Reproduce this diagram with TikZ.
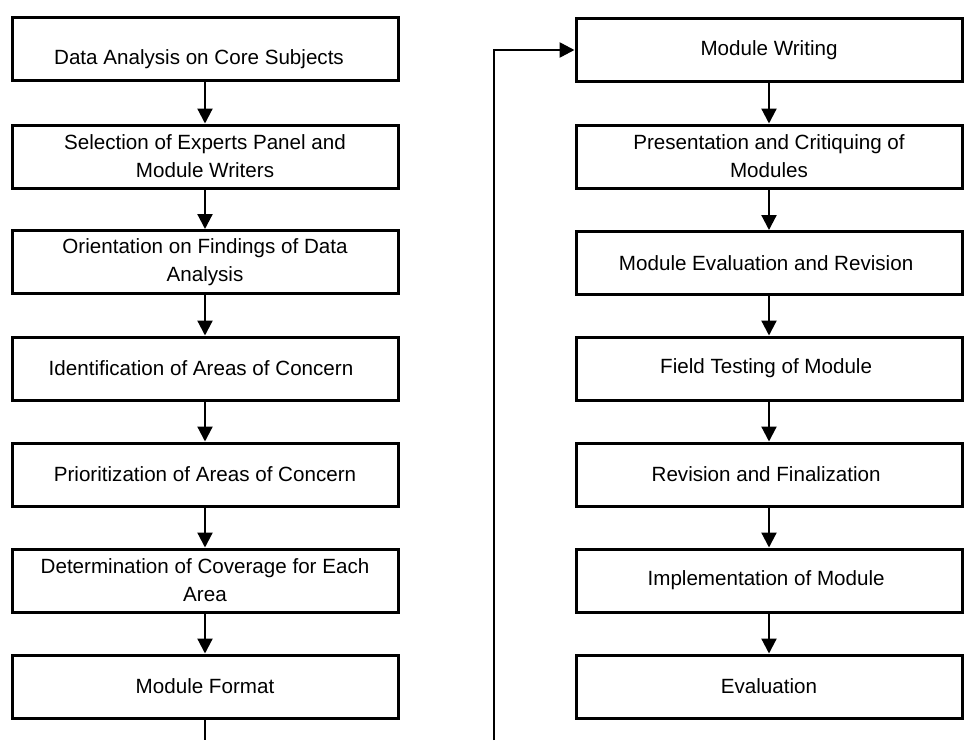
\documentclass[tikz,border=0pt]{standalone}
\usepackage{fontspec}
\setmainfont{Liberation Sans}
\usepackage{tikz}
\usetikzlibrary{arrows.meta}
\newcommand{\boxw}{193pt}
\newcommand{\boxh}{31.5pt}
\newcommand{\rimw}{1.5pt}

\begin{document}
\begin{tikzpicture}[x=0.5pt,y=-0.5pt]
            \tikzset{stepbox/.style = {draw, rectangle, line width=\rimw, minimum width=\boxw, minimum height=\boxh, inner sep=0pt, align=center, font=\fontsize{10.3}{14}\selectfont}}
            \tikzset{flow/.style = {line width=1.1pt, -{Triangle[length=7.5pt,width=7.5pt]}}}
            \useasboundingbox (0,0) rectangle (975,740);
            % left column
            \node[stepbox] (a) at (205,49) {\raisebox{-5pt}[\height][\depth]{Data Analysis on Core Subjects\hspace*{6pt}}};
            \node[stepbox] (b) at (205,156.5) {Selection of Experts Panel and~\\Module Writers};
            \node[stepbox] (c) at (205,262) {Orientation on Findings of Data~\\Analysis};
            \node[stepbox] (d) at (205,368.5) {Identification of Areas of Concern\hspace*{4pt}};
            \node[stepbox] (e) at (205,474.5) {Prioritization of Areas of Concern};
            \node[stepbox] (f) at (205,580.5) {Determination of Coverage for Each~\\Area};
            \node[stepbox] (g) at (205,686.5) {Module Format};
            % right column
            \node[stepbox] (h) at (769,50) {Module Writing};
            \node[stepbox] (i) at (769,156.5) {Presentation and Critiquing of~\\Modules};
            \node[stepbox] (j) at (769,263) {Module Evaluation and Revision~};
            \node[stepbox] (k) at (769,368.5) {Field Testing of Module~};
            \node[stepbox] (l) at (769,474.5) {Revision and Finalization~};
            \node[stepbox] (m) at (769,580.5) {Implementation of Module~};
            \node[stepbox] (n) at (769,686.5) {Evaluation};

            \coordinate (p) at (202,740);
            \coordinate (q) at (494,740);

            \draw[flow] (a) -- (b);
            \draw[flow] (b) -- (c);
            \draw[flow] (c) -- (d);
            \draw[flow] (d) -- (e);
            \draw[flow] (e) -- (f);
            \draw[flow] (f) -- (g);
            \draw[line width=0.6pt] (g.south) -- (g.south |- p);
            \draw[flow, line width=1.3pt] (q) |- (h);

            \draw[flow] (h) -- (i);
            \draw[flow] (i) -- (j);
            \draw[flow] (j) -- (k);
            \draw[flow] (k) -- (l);
            \draw[flow] (l) -- (m);
            \draw[flow] (m) -- (n);
        \end{tikzpicture}
\end{document}
